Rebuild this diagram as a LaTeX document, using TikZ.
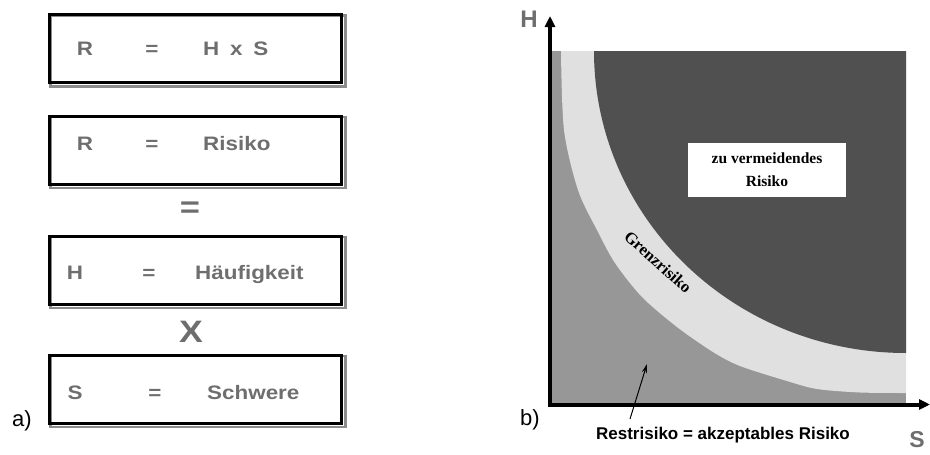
\documentclass[tikz,border=0pt]{standalone}
\usepackage{fontspec}
\setmainfont{Liberation Sans}
\newfontfamily\widesans[FakeStretch=1.15]{Liberation Sans}
\newfontfamily\timesbf{Liberation Serif}
\usetikzlibrary{arrows.meta}
\definecolor{textgray}{HTML}{6E6E6E}
\definecolor{restgray}{HTML}{979797}
\definecolor{grenzgray}{HTML}{E0E0E0}
\definecolor{riskdark}{HTML}{505050}
\tikzstyle{formelbox}=[
        draw=black,
        line width=3pt,
        minimum width=292pt,
        minimum height=68pt,
        inner sep=0pt
]
\tikzstyle{boxshadow}=[
        draw=black!45,
        line width=2.5pt
]
\tikzstyle{formel}=[
        text=textgray,
        inner sep=0pt,
        font=\widesans\bfseries\fontsize{19.5}{20}\selectfont
]
\tikzstyle{serifbold}=[
        inner sep=0pt,
        font=\timesbf\bfseries\fontsize{15.5}{23}\selectfont
]

\begin{document}
\begin{tikzpicture}[x=1pt,y=-1pt]
                        \useasboundingbox (0,0) rectangle (930,455);

                        % linke Seite: Formel
                        \node[formelbox] (hxs) at (195.5,48.5) {};
                        \node[formelbox] (risiko) at (195.5,150) {};
                        \node[formelbox] (haeuf) at (195.5,270) {};
                        \node[formelbox] (schwere) at (195.5,389) {};
                        \foreach \b in {hxs,risiko,haeuf,schwere} {
                            \draw[boxshadow] ([shift={(2.5,2.5)}]\b.north west) rectangle ([shift={(2.5,2.5)}]\b.south east);
                            \node[formelbox] at (\b) {};
                        }

                        \node[formel,anchor=base] (hxsR) at (85,55) {R};
                        \node[formel,anchor=base] (hxsEq) at (152,55) {=};
                        \node[formel,anchor=base west] (hxsTxt) at (203,55) {H\hspace{0.55em}x\hspace{0.55em}S};

                        \node[formel,anchor=base] (risR) at (85,150) {R};
                        \node[formel,anchor=base] (risEq) at (152,150) {=};
                        \node[formel,anchor=base west] (risTxt) at (203,150) {Risiko};

                        \node[formel,anchor=base] (haeufH) at (75,279) {H};
                        \node[formel,anchor=base] (haeufEq) at (149,279) {=};
                        \node[formel,anchor=base west] (haeufTxt) at (195,279) {Häufigkeit};

                        \node[formel,anchor=base] (schwS) at (75,399) {S};
                        \node[formel,anchor=base] (schwEq) at (155,399) {=};
                        \node[formel,anchor=base west] (schwTxt) at (207,399) {Schwere};

                        \node[formel,font=\widesans\bfseries\fontsize{30}{30}\selectfont] (gleich) at (190,210) {=};
                        \node[formel,font=\widesans\bfseries\fontsize{31}{31}\selectfont] (mal) at (191,332) {X};

                        \node[font=\fontsize{22}{22}\selectfont] (teilA) at (22,421) {a)};
                        \node[font=\fontsize{22}{22}\selectfont] (teilB) at (530,420) {b)};

                        % rechte Seite: Risikograph
                        \fill[restgray] (552,51) rectangle (906,403);
                        \fill[grenzgray] (561,51) -- plot[smooth] coordinates {(561,51) (564,130) (578,190) (597,230) (615,263) (642,297) (677,327) (713,352) (740,366) (787,381) (817,389) (860,392.5) (906,393)} -- (906,51) -- cycle;
                        \fill[riskdark] (594,51) arc[start angle=180, end angle=90, x radius=312, y radius=302] -- (906,51) -- cycle;

                        \draw[line width=4pt,-{Triangle[length=11pt,width=10pt]}] (550,406.5) -- (550,16);
                        \draw[line width=4pt,-{Triangle[length=11pt,width=10pt]}] (548,404.5) -- (930,404.5);
                        \node[text=textgray,inner sep=0pt,font=\bfseries\fontsize{24}{24}\selectfont] (achseH) at (529,19) {H};
                        \node[text=textgray,inner sep=0pt,font=\bfseries\fontsize{23}{23}\selectfont] (achseS) at (917,440) {S};

                        \node[serifbold,fill=white,minimum width=158pt,minimum height=54pt,align=center] (vermeiden) at (767,170) {zu vermeidendes\\Risiko};
                        \node[serifbold,font=\timesbf\bfseries\fontsize{16.5}{20}\selectfont,rotate=-42] (grenz) at (658,262) {Grenzrisiko};

                        \node[font=\bfseries\fontsize{17}{17}\selectfont] (rest) at (723,435) {Restrisiko = akzeptables Risiko};
                        \coordinate (restfuss) at (630,419);
                        \coordinate (restspitze) at (647,364);
                        \draw[line width=1pt,-{Stealth[length=9pt,width=5pt]}] (restfuss) -- (restspitze);

                    \end{tikzpicture}
\end{document}
